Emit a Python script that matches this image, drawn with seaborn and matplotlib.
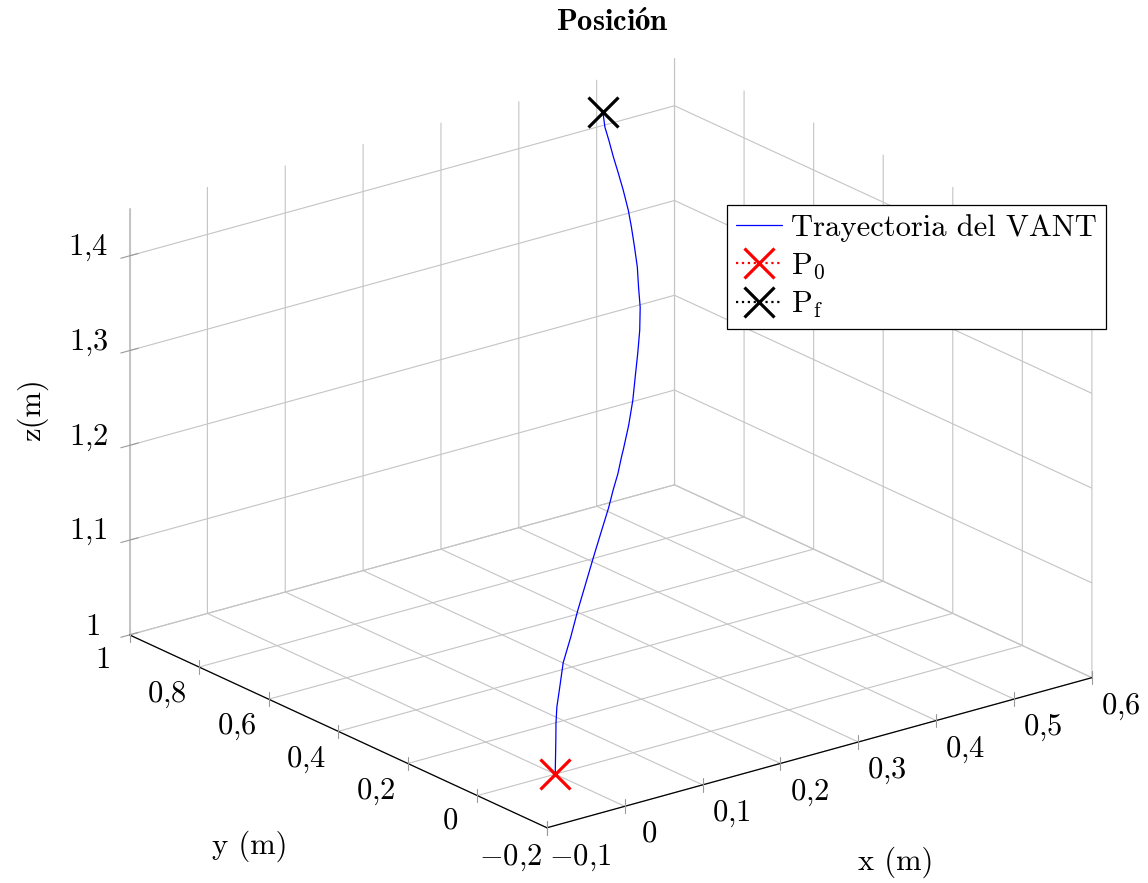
import numpy as np
import matplotlib
matplotlib.use("Agg")
import matplotlib.pyplot as plt
import matplotlib.transforms as mtransforms
import seaborn as sns
from mpl_toolkits.mplot3d import proj3d, axis3d

# ---------------- data ----------------
x_traj = [0.000, 0.020, 0.030, 0.041, 0.058, 0.075, 0.100, 0.125, 0.151, 0.176, 0.201,
          0.225, 0.241, 0.257, 0.271, 0.279, 0.299, 0.319, 0.336, 0.353, 0.369, 0.383,
          0.393, 0.403, 0.411, 0.419, 0.425, 0.430, 0.434, 0.437, 0.441, 0.444, 0.450]
y_traj = [0.000, 0.043, 0.065, 0.087, 0.116, 0.145, 0.179, 0.215, 0.250, 0.284, 0.318,
          0.350, 0.373, 0.395, 0.416, 0.428, 0.458, 0.491, 0.522, 0.553, 0.583, 0.613,
          0.640, 0.666, 0.692, 0.719, 0.741, 0.767, 0.790, 0.811, 0.833, 0.851, 0.870]
z_traj = [1.000, 1.024, 1.036, 1.047, 1.061, 1.076, 1.092, 1.108, 1.125, 1.141, 1.156,
          1.171, 1.182, 1.192, 1.203, 1.208, 1.223, 1.239, 1.255, 1.270, 1.286, 1.302,
          1.316, 1.331, 1.346, 1.361, 1.373, 1.389, 1.402, 1.415, 1.428, 1.438, 1.449]
p0 = [0.0, 0.0, 1.0]
pf = [0.450, 0.870, 1.449]

x_ticks = [-0.1, 0.0, 0.1, 0.2, 0.3, 0.4, 0.5, 0.6]
x_tick_labels = [r"$-0{,}1$", r"$0$", r"$0{,}1$", r"$0{,}2$", r"$0{,}3$",
                 r"$0{,}4$", r"$0{,}5$", r"$0{,}6$"]
y_ticks = [-0.2, 0.0, 0.2, 0.4, 0.6, 0.8, 1.0]
y_tick_labels = [r"$-0{,}2$", r"$0$", r"$0{,}2$", r"$0{,}4$", r"$0{,}6$",
                 r"$0{,}8$", r"$1$"]
z_ticks = [1.0, 1.1, 1.2, 1.3, 1.4]
z_tick_labels = [r"$1$", r"$1{,}1$", r"$1{,}2$", r"$1{,}3$", r"$1{,}4$"]
x_lim = (-0.1, 0.6)
y_lim = (-0.2, 1.0)
z_lim = (1.0, 1.45)

legend_labels = ["Trayectoria del VANT", r"$\mathrm{P}_0$", r"$\mathrm{P}_\mathrm{f}$"]
title_text = r"$\mathbf{Posición}$"

# ---------------- style ----------------
sns.set_style("white")
FS = 22
plt.rcParams.update({
    "font.family": ["cmr10", "DejaVu Serif"],
    "mathtext.fontset": "cm",
    "axes.unicode_minus": False,
    "axes.formatter.use_mathtext": True,
    "text.color": "black",
    "axes.labelcolor": "black",
    "grid.color": "#c4c4c4",
    "grid.linewidth": 0.8,
    "grid.linestyle": "-",
    "xtick.color": "#9a9a9a",
    "ytick.color": "#9a9a9a",
    "xtick.labelcolor": "black",
    "ytick.labelcolor": "black",
    "font.size": FS,
})

# x and y tick marks drawn vertically (along z), as in the reference
try:
    axis3d.Axis._AXINFO["x"]["tickdir"] = 2
    axis3d.Axis._AXINFO["y"]["tickdir"] = 2
except Exception:
    pass

W, H = 1148, 883
fig = plt.figure(figsize=(W / 100, H / 100), dpi=100)
fig.patch.set_facecolor("white")
S0 = 800.0
ax = fig.add_axes([(W - S0) / 2 / W, (H - S0) / 2 / H, S0 / W, S0 / H], projection="3d")
ax.set_proj_type("ortho")
ax.view_init(elev=20.9, azim=-127.67)
ax.set_box_aspect((1.0, 0.992, 0.663))

line, = ax.plot(x_traj, y_traj, z_traj, color="#0000ff", lw=0.9,
                label=legend_labels[0], zorder=5)
m0, = ax.plot([p0[0]], [p0[1]], [p0[2]], color="red", ls=":", lw=1.6,
              marker="x", ms=21, mew=2.3, label=legend_labels[1], zorder=6)
mf, = ax.plot([pf[0]], [pf[1]], [pf[2]], color="black", ls=":", lw=1.6,
              marker="x", ms=21, mew=2.3, label=legend_labels[2], zorder=6)

ax.set_xlim(*x_lim)
ax.set_ylim(*y_lim)
ax.set_zlim(*z_lim)
ax.set_xticks(x_ticks)
ax.set_xticklabels([""] * len(x_ticks))
ax.set_yticks(y_ticks)
ax.set_yticklabels([""] * len(y_ticks))
ax.set_zticks(z_ticks)
ax.set_zticklabels([""] * len(z_ticks))
ax.grid(True)

for axis in (ax.xaxis, ax.yaxis, ax.zaxis):
    axis.set_pane_color((1, 1, 1, 0))
    axis.pane.set_edgecolor((1, 1, 1, 0))
    axis._axinfo["grid"].update(color="#c4c4c4", linewidth=0.8)
    axis._axinfo["tick"]["inward_factor"] = 0.2
    axis._axinfo["tick"]["outward_factor"] = 0.2
ax.xaxis.line.set_color("black")
ax.yaxis.line.set_color("black")
ax.zaxis.line.set_color("#c4c4c4")
ax.xaxis.line.set_linewidth(0.9)
ax.yaxis.line.set_linewidth(0.9)
ax.tick_params(axis="x", colors="#9a9a9a")
ax.tick_params(axis="y", colors="#9a9a9a")
ax.tick_params(axis="z", colors="#9a9a9a")


def project(xs, ys, zs):
    M = ax.get_proj()
    px, py, _ = proj3d.proj_transform(np.asarray(xs, float), np.asarray(ys, float),
                                      np.asarray(zs, float), M)
    return ax.transData.transform(np.column_stack([px, py]))


# ---------------- align the projected box with the target frame ----------------
fig.canvas.draw()
corners_world = np.array([
    [x_lim[0], y_lim[0], z_lim[0]],
    [x_lim[1], y_lim[0], z_lim[0]],
    [x_lim[0], y_lim[1], z_lim[0]],
    [x_lim[1], y_lim[1], z_lim[1]],
])
targets_px = np.array([[546.7, 827.7], [1091.7, 677.7], [129.5, 635.0], [675.0, 58.3]])
targets = np.column_stack([targets_px[:, 0], H - targets_px[:, 1]])
disp = project(corners_world[:, 0], corners_world[:, 1], corners_world[:, 2])
bb = ax.get_position()
C0 = np.array([(bb.x0 + bb.x1) / 2 * W, (bb.y0 + bb.y1) / 2 * H])
S_cur = bb.width * W
v = (disp - C0) / S_cur
A = np.zeros((8, 3))
b = np.zeros(8)
for i in range(4):
    A[2 * i] = [1, 0, v[i, 0]]
    b[2 * i] = targets[i, 0]
    A[2 * i + 1] = [0, 1, v[i, 1]]
    b[2 * i + 1] = targets[i, 1]
sol, *_ = np.linalg.lstsq(A, b, rcond=None)
Cx, Cy, S = sol
ax.set_position([(Cx - S / 2) / W, (Cy - S / 2) / H, S / W, S / H])
fig.canvas.draw()
renderer = fig.canvas.get_renderer()

# ---------------- tick labels placed next to their projected ticks ----------------
ident = mtransforms.IdentityTransform()


def place_labels(labels, pts, offset):
    for lab, (px_, py_) in zip(labels, pts):
        t = fig.text(px_, py_, lab, transform=ident, ha="center", va="center",
                     fontsize=FS, color="black")
        w = t.get_window_extent(renderer).width
        dx, dy = offset(w)
        t.set_position((px_ + dx, py_ - dy))


n = len(x_ticks)
place_labels(x_tick_labels, project(x_ticks, [y_lim[0]] * n, [z_lim[0]] * n),
             lambda w: (21 + 0.2 * w, 27 + 0.05 * w))
n = len(y_ticks)
place_labels(y_tick_labels, project([x_lim[0]] * n, y_ticks, [z_lim[0]] * n),
             lambda w: (-24 - 0.2 * w, 24 + 0.1 * w))
n = len(z_ticks)
place_labels(z_tick_labels, project([x_lim[0]] * n, [y_lim[1]] * n, z_ticks),
             lambda w: (-35 - 0.15 * w, -8))

# ---------------- text ----------------
fig.text(612 / W, 1 - 22 / H, title_text, ha="center", va="center", fontsize=FS, color="black")
fig.text(896 / W, 1 - 862 / H, "x (m)", ha="center", va="center", fontsize=FS, color="black")
fig.text(250 / W, 1 - 846 / H, "y (m)", ha="center", va="center", fontsize=FS, color="black")
fig.text(32 / W, 1 - 410 / H, "z(m)", ha="center", va="center", fontsize=FS,
         rotation=90, color="black")

leg = fig.legend(handles=[line, m0, mf], labels=legend_labels,
                 loc="upper left", bbox_to_anchor=(727 / W, 1 - 205 / H),
                 bbox_transform=fig.transFigure, fontsize=FS, frameon=True,
                 fancybox=False, edgecolor="black", framealpha=1,
                 handlelength=1.5, handletextpad=0.3, borderpad=0.3,
                 labelspacing=0.3, borderaxespad=0)
leg.get_frame().set_linewidth(0.9)
for t in leg.get_texts():
    t.set_color("black")

fig.savefig("out.png", dpi=100, facecolor="white")
